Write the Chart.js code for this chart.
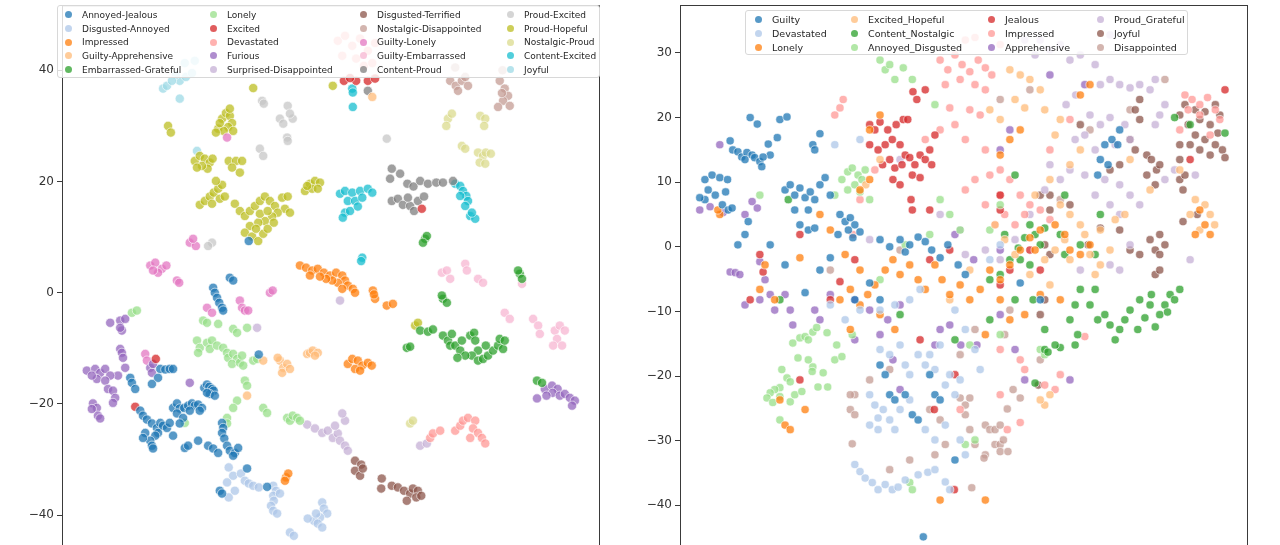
<!DOCTYPE html>
<html>
<head>
<meta charset="utf-8">
<script src="https://cdn.jsdelivr.net/npm/chart.js@4.4.0/dist/chart.umd.min.js"></script>
<style>
html, body { margin: 0; padding: 0; background: #fff; overflow: hidden; width: 1280px; height: 545px; }
.panel { position: absolute; top: 0; }
.legend { position: absolute; background: rgba(255,255,255,0.82); border: 1px solid #d8d8d8; border-radius: 3px;
  display: grid; grid-auto-flow: column; font-family: "DejaVu Sans", sans-serif; color: #262626; box-sizing: border-box; }
.legend div { display: flex; align-items: center; white-space: nowrap; }
.legend i { display: inline-block; width: 7px; height: 7px; border-radius: 50%; margin-right: 10px; flex: none; }
</style>
</head>
<body>
<div class="panel" style="left:0;width:612px;height:568px"><canvas id="leftChart" width="612" height="568"></canvas></div>
<div class="panel" style="left:612px;width:648px;height:568px"><canvas id="rightChart" width="648" height="568"></canvas></div>
<div id="leftLegend" class="legend" style="left:57px;top:5px;width:543px;height:73px;padding:2px 0 0 7px;font-size:9px;grid-template-columns:145px 150px 147px 95px;grid-template-rows:repeat(5,13.7px)"></div>
<div id="rightLegend" class="legend" style="left:745px;top:10px;width:443px;height:45px;padding:1px 0 0 9px;font-size:9.5px;grid-template-columns:96px 137px 109px 95px;grid-template-rows:repeat(3,14px)"></div>
<script>
// ---- left panel (pairs) ----
const leftNames = ['Annoyed-Jealous', 'Disgusted-Annoyed', 'Impressed', 'Guilty-Apprehensive', 'Embarrassed-Grateful',
  'Lonely', 'Excited', 'Devastated', 'Furious', 'Surprised-Disappointed',
  'Disgusted-Terrified', 'Nostalgic-Disappointed', 'Guilty-Lonely', 'Guilty-Embarrassed', 'Content-Proud',
  'Proud-Excited', 'Proud-Hopeful', 'Nostalgic-Proud', 'Content-Excited', 'Joyful'];
const leftYTicks = [40, 20, 0, -20, -40];

const leftAnnoyedJealous = [[-14.6,9.3],[-18.0,2.7],[-17.4,2.2],[-21.0,0.9],[-20.7,0],[-20.3,-0.9],[-19.9,-1.8],[-19.4,-2.7],[-19.2,-3.2],[-12.8,-11.1],
  [-35.9,-15.3],[-35.6,-16.2],[-35.0,-17.3],[-30.5,-13.7],[-29.6,-13.8],[-28.8,-13.7],[-28.2,-13.7],[-30.9,-15.3],[-32.0,-16.4],
  [-22.6,-17.1],[-22.1,-16.5],[-21.7,-16.9],[-21.2,-17.3],[-20.9,-17.6],[-21.6,-18.2],[-22.1,-18.0],[-20.7,-18.5],
  [-34.1,-21.2],[-33.6,-22.1],[-32.9,-22.8],[-32.0,-23.5],[-31.1,-24.3],[-30.5,-23.4],[-30.0,-23.9],[-30.9,-25.2],[-31.4,-25.7],[-32.3,-26.6],[-33.2,-25.2],[-33.6,-26.1],[-32.0,-27.5],[-31.8,-28.0],[-29.3,-24.3],[-28.8,-23.4],[-28.2,-25.7],
  [-28.2,-20.7],[-27.5,-19.9],[-27.0,-20.8],[-26.2,-20.7],[-25.5,-20.3],[-24.8,-19.9],[-24.3,-20.3],[-23.7,-20.1],[-23.0,-20.7],[-23.4,-21.2],[-25.2,-21.2],[-27.5,-21.7],[-26.4,-22.5],[-27.0,-23.5],
  [-19.4,-23.4],[-19.2,-24.3],[-19.4,-25.2],[-19.0,-26.2],[-18.5,-27.5],[-18.0,-28.4],[-17.1,-28.8],[-16.5,-27.9],[-17.4,-29.3],
  [-26.1,-27.9],[-25.5,-27.5],[-23.7,-26.6],[-21.9,-27.5],[-21.0,-28.0],[-20.1,-28.8],[-19.8,-35.6],[-19.4,-36.1],[-14.9,-31.6],[-11.3,-34.9]];
const leftDisgustedAnnoyed = [[-18.2,-31.4],[-17.4,-32.9],[-18.5,-34.1],[-17.1,-35.6],[-18.2,-36.8],[-16.0,-32.5],[-15.3,-33.8],[-14.6,-34.3],[-13.8,-34.7],[-12.8,-35.0],
  [-10.2,-34.7],[-9.7,-35.6],[-10.2,-36.5],[-10.1,-37.4],[-10.6,-38.3],[-10.2,-39.2],[-9.5,-39.7],[-9.0,-36.1],[-7.2,-43.1],[-6.5,-43.7],
  [-1.4,-37.7],[-1.1,-38.8],[-0.5,-39.7],[-1.8,-40.4],[-2.9,-41.0],[-4.0,-40.6],[-2.2,-41.5],[-1.4,-42.2],[-2.5,-39.7]];
const leftImpressed = [[-5.4,4.9],[-4.3,4.5],[-3.2,4.0],[-2.2,4.3],[-1.1,3.6],[0,3.1],[1.1,3.6],[2.2,3.1],[2.7,2.2],[1.4,1.8],[0.4,2.2],[-0.7,2.5],[-1.8,2.9],[-3.6,3.1],[3.2,1.3],[2.2,0.7],
  [4.1,0.7],[4.5,0],[7.7,0.4],[8.1,-1.1],[7.9,-0.3],[10.2,-2.3],[11.3,-2.0],
  [3.2,-12.8],[4.0,-11.9],[5.0,-12.2],[5.8,-13.1],[6.8,-12.6],[4.5,-13.7],[5.4,-14.0],[7.5,-13.1],[-7.9,-33.2],[-7.5,-32.5],[-8.1,-33.8]];
const leftGuiltyApprehensive = [[-9.0,-12.2],[-8.4,-13.5],[-8.6,-14.4],[-7.7,-12.8],[-9.4,-11.7],[-7.2,-13.7],[-4.1,-11.0],[-3.6,-10.8],[-3.1,-10.4],[-2.2,-10.8],[-2.7,-11.3],[-12.0,-12.2],[-14.9,-18.5],[7.6,35.2]];
const leftEmbarrassedGrateful = [[17.1,9.7],[17.4,10.2],[16.7,9.0],[34.1,3.4],[33.8,4.0],[34.5,2.5],[20.3,-1.1],[21.0,-1.8],[20.1,-0.5],[13.8,-9.9],[14.4,-9.7],[16.2,-6.8],[17.6,-7.0],[18.5,-6.6],
  [20.3,-7.7],[21.2,-8.6],[21.9,-7.4],[21.6,-9.5],[22.5,-9.5],[23.4,-10.4],[23.7,-8.6],[25.2,-7.7],[25.9,-7.2],[26.1,-8.6],[26.6,-10.4],[25.5,-11.3],[26.6,-12.2],[27.5,-11.9],[28.4,-11.3],[29.3,-10.4],
  [30.2,-9.5],[31.1,-10.1],[30.5,-8.3],[31.4,-8.6],[28.0,-9.5],[24.3,-11.3],[22.9,-11.7],[37.2,-15.8],[38.1,-16.2]];
const leftLonely = [[-35.6,-3.6],[-34.7,-3.2],[-22.8,-5.0],[-22.1,-5.4],[-20.1,-5.6],[-17.4,-6.5],[-16.7,-7.2],[-14.9,-6.3],[-23.9,-8.6],[-23.4,-9.9],[-23.7,-10.8],[-22.1,-9.0],[-21.2,-8.6],[-21.6,-10.1],
  [-20.3,-9.5],[-19.2,-9.9],[-18.5,-10.8],[-18.3,-11.7],[-17.4,-11.0],[-16.7,-11.9],[-17.6,-12.8],[-16.2,-12.6],[-15.6,-13.1],[-15.8,-11.3],[-13.8,-12.2],[-13.1,-11.9],[-15.3,-15.8],[-14.9,-16.7],
  [-16.7,-19.4],[-17.4,-20.7],[-18.5,-22.5],[-18.5,-23.5],[-12.0,-20.7],[-11.3,-21.6],[-7.7,-22.5],[-7.2,-23.0],[-6.7,-22.1],[-5.9,-22.5],[-5.4,-23.0],[-26.1,-23.4]];
const leftExcited = [[2.5,38.1],[4.7,38.1],[6.8,38.1],[8.1,38.5],[3.6,38.6],[16.5,15.1],[-35.0,-20.5],[-31.3,-11.9]];
const leftDevastated = [[1.4,45.3],[2.7,46.2],[4.0,44.4],[5.4,45.7],[6.8,43.5],[8.1,44.9],[4.7,42.1],[2.2,42.6],[6.1,40.8],[7.6,41.3],
  [18.0,-26.1],[18.5,-25.3],[19.8,-24.8],[22.5,-24.8],[23.4,-23.9],[23.9,-23.0],[24.8,-22.5],[26.1,-23.0],[25.7,-24.4],[26.6,-25.2],[27.3,-26.1],[27.9,-27.1],[25.2,-26.1]];
const leftFurious = [[37.2,-19.0],[38.6,-17.3],[39.9,-16.7],[40.9,-17.3],[40.0,-18.0],[41.3,-18.5],[42.2,-18.2],[43.1,-18.9],[44.0,-19.4],[43.5,-20.3],[38.9,-18.5],
  [-39.5,-5.4],[-37.7,-5.0],[-36.8,-4.7],[-37.4,-6.8],[-37.7,-6.3],[-37.7,-10.1],[-37.4,-10.8],[-37.2,-11.7],[-36.8,-13.5],[-38.1,-14.9],
  [-43.7,-14.0],[-42.2,-13.7],[-41.3,-14.4],[-40.4,-13.7],[-39.5,-14.9],[-41.9,-15.5],[-40.4,-15.8],[-42.8,-14.9],[-39.9,-17.3],[-39.0,-17.6],[-38.6,-18.9],[-39.0,-19.8],
  [-42.6,-19.9],[-41.9,-20.7],[-42.8,-20.9],[-41.7,-22.1],[-41.3,-22.6],[-32.3,-13.5],[-32.0,-14.4],[-31.8,-12.8],[-25.2,-16.2]];
const leftSurprisedDisappointed = [[-13.1,-6.3],[1.8,-1.4],[-4.1,-23.7],[-2.7,-24.4],[-1.4,-25.2],[-0.4,-24.8],[0.5,-26.1],[1.4,-25.3],[1.8,-26.6],[2.7,-27.5],[3.2,-28.4],[0.9,-23.9],[2.7,-23.0],[2.2,-21.7],[16.2,-27.5],[17.4,-27.1]];
const leftDisgustedTerrified = [[4.5,-30.2],[5.6,-30.9],[4.5,-32.0],[5.4,-32.9],[5.9,-31.6],[9.3,-33.4],[9.2,-35.2],[11.1,-34.7],[12.2,-35.0],[13.3,-35.6],[14.4,-36.1],[14.9,-35.2],[15.8,-35.6],[15.5,-36.8],[13.8,-37.4],[16.4,-36.5]];
const leftNostalgicDisappointed = [[21.6,38.1],[22.6,37.2],[23.7,38.1],[24.8,37.2],[23.0,36.3],[24.3,38.8],[30.5,38.1],[31.4,36.7],[32.0,35.4],[31.1,34.5],[30.2,33.4],[32.3,33.6],[30.9,35.9],[22.5,40.5],[31.0,40.0]];
const leftGuiltyLonely = [[-18.5,27.9],[-25.2,9.0],[-24.1,8.4],[-24.6,9.7],[-32.3,4.9],[-31.4,5.4],[-30.2,4.3],[-30.9,3.6],[-29.4,4.9],[-31.8,4.0],[-27.5,2.2],[-27.1,1.8],
  [-22.1,-2.7],[-21.2,-3.6],[-16.2,-1.4],[-15.8,-2.7],[-15.3,-3.2],[-14.7,-3.2],[-10.8,0.0],[-10.3,0.4],[-33.2,-11.0],[-32.9,-12.2]];
const leftGuiltyEmbarrassed = [[20.1,3.6],[21.0,4.0],[21.6,2.5],[24.3,5.2],[24.6,4.0],[26.6,2.5],[27.5,1.8],[34.5,1.6],[31.4,-3.6],[32.3,-4.7],[36.5,-4.7],[37.4,-5.9],[37.7,-7.4],[40.4,-6.8],[41.3,-5.9],[42.2,-6.8],[40.8,-8.3],[40.1,-9.5],[41.7,-9.5]];
const leftContentProud = [[6.8,36.3],[11.1,22.3],[10.8,20.5],[12.6,21.4],[13.9,19.6],[15.0,19.1],[16.2,20.1],[17.6,19.6],[19.1,19.8],[20.3,19.8],[11.1,16.5],[12.2,16.9],[13.1,15.8],[14.4,15.6],[15.8,16.5],[16.9,17.3],[15.1,14.7],[14.0,17.1],[22.1,20.1]];
const leftProudExcited = [[-12.2,34.5],[-11.9,34.0],[-9.0,31.3],[-8.4,30.4],[-7.6,33.6],[-6.7,31.3],[-7.2,32.2],[-7.7,27.9],[-7.6,27.3],[-12.6,25.9],[-12.0,24.6],[-21.2,9.0],[-21.9,8.4],[10.2,27.7]];
const leftProudHopeful = [[-13.8,36.8],[-29.1,30.0],[-28.6,28.8],
  [-20.1,29.5],[-19.4,31.3],[-18.7,32.3],[-18.0,31.8],[-17.6,30.5],[-18.3,29.8],[-19.1,29.1],[-19.8,30.5],[-20.5,28.8],[-18.0,33.1],[-17.4,29.1],
  [-24.3,23.7],[-23.4,24.6],[-22.5,24.1],[-21.6,23.4],[-22.0,22.3],[-23.0,22.8],[-23.9,22.5],[-21.1,24.1],
  [-18.2,23.7],[-16.9,23.7],[-15.8,23.7],[-17.6,22.5],[-16.2,21.6],
  [-23.4,15.8],[-22.5,16.5],[-21.6,17.3],[-20.9,18.0],[-20.1,18.7],[-19.4,19.4],[-20.5,20.1],[-19.8,16.9],[-18.9,17.3],[-21.2,16.0],
  [-17.1,16.0],[-16.2,14.7],[-15.3,13.8],[-14.4,14.7],[-13.5,15.6],[-12.6,16.5],[-11.7,17.3],[-10.8,16.5],[-9.9,15.6],[-8.6,17.1],[-8.1,15.1],[-9.4,14.4],[-10.4,13.7],
  [-11.7,12.9],[-12.9,12.6],[-14.4,12.0],[-15.3,10.8],[-14.0,10.1],[-12.9,9.3],[-12.0,10.6],[-11.2,11.5],[-10.1,12.6],[-7.2,14.4],[-7.6,17.3],[-12.6,14.2],[-11.2,14.7],[-13.3,11.5],
  [-4.5,18.3],[-3.6,19.6],[-2.7,20.1],[-1.8,19.8],[-3.2,18.7],[-2.2,18.7],[-4.1,19.2],[0.5,37.2],[15.3,-5.9],[15.8,-5.4]];
const leftNostalgicProud = [[21.2,31.3],[21.9,32.2],[20.9,30.0],[27.0,31.8],[27.9,31.3],[27.7,30.0],[23.7,26.4],[24.3,25.9],[26.6,25.2],[27.5,24.6],[28.0,25.2],[26.9,23.4],[27.9,23.2],[28.9,25.0],[14.4,-23.5],[14.9,-23.0]];
const leftContentExcited = [[4.0,36.7],[4.1,36.0],[4.1,33.4],[1.8,17.8],[2.7,18.3],[4.0,18.0],[5.4,18.3],[6.8,18.7],[7.6,18.0],[3.2,16.5],[4.5,16.5],[5.8,17.1],[2.7,14.4],[3.6,14.7],[2.3,13.5],[5.0,15.5],
  [22.5,19.6],[23.4,19.2],[23.9,18.3],[24.5,17.4],[23.4,17.4],[24.8,16.5],[24.3,15.6],[25.2,13.8],[26.1,13.3],[25.5,14.4],[5.8,6.3],[5.6,5.7]];
const leftJoyful = [[-30.0,36.7],[-29.3,37.2],[-27.0,38.1],[-27.0,34.9],[-25.9,38.8],[-24.8,39.5],[-27.7,39.2],[-23.9,25.5],[-28.4,38.1],[-26.1,41.3],[-24.3,41.7]];

// ---- right panel (singles) ----
const rightNames = ['Guilty', 'Devastated', 'Lonely', 'Excited_Hopeful', 'Content_Nostalgic', 'Annoyed_Disgusted',
  'Jealous', 'Impressed', 'Apprehensive', 'Proud_Grateful', 'Joyful', 'Disappointed'];
const rightYTicks = [30, 20, 10, 0, -10, -20, -30, -40];

const rightGuilty = [[-33.1,20.0],[-32.0,19.0],[-28.5,19.7],[-27.4,20.1],[-36.2,16.4],[-35.8,15.0],[-35.0,14.7],[-34.4,13.9],[-33.6,14.6],[-32.8,14.2],[-32.4,13.8],[-31.6,13.2],[-31.3,12.4],
  [-30.3,15.9],[-28.9,16.9],[-30.0,14.2],[-31.1,13.9],[-33.9,13.5],[-22.3,17.5],[-23.4,15.8],[-23.1,15.0],
  [-40.1,10.4],[-39.0,11.1],[-37.8,10.7],[-36.6,10.4],[-39.6,8.8],[-38.5,8.0],[-36.9,8.5],[-40.1,7.3],[-40.9,7.6],[-37.4,6.5],[-36.5,5.7],[-35.9,6.0],
  [-27.7,8.8],[-26.9,9.6],[-26.2,8.0],[-25.4,9.1],[-24.6,7.6],[-23.8,8.5],[-23.1,7.3],[-24.1,5.7],[-26.2,5.7],[-22.3,9.6],[-21.5,10.7],[-20.7,8.0],[-25.4,3.4],[-24.1,2.6],[-23.1,2.9],
  [-19.2,5.0],[-18.4,3.9],[-17.6,4.5],[-16.9,3.4],[-17.9,2.6],[-19.5,1.9],[-17.2,1.4],[-16.1,2.3],[-33.9,1.9],[-33.4,3.9],[-35.0,0.3],
  [-13.0,1.1],[-11.5,0],[-9.9,1.1],[-9.1,-0.8],[-8.4,0.3],[-7.1,1.5],[-6.0,0.8],[-5.0,-0.5],[-3.7,-1.7],[-2.5,0.3],[-0.9,-2.8],[0.2,-4.3],[-14.6,-5.6],[-16.9,-8.2],[-13.0,-8.2],
  [-20.7,-1.7],[-22.3,-3.6],[-24.6,-7.1],[-27.7,-2.8],[-30.0,0.3],[8.7,-5.6],[11.8,-8.2],
  [21.8,15.8],[22.9,16.6],[23.8,15.8],[21.1,13.5],[22.3,12.7],[20.7,11.1],[24.1,18.1],
  [-13.0,-18.3],[-12.2,-19.8],[-11.5,-22.9],[-10.7,-23.7],[-9.1,-22.9],[-8.0,-26.0],[-7.1,-26.8],[-5.3,-19.8],[-4.5,-22.9],[-3.7,-23.7],[-6.3,-44.9],[-1.4,-33.0]];
const rightDevastated = [[-13.0,-15.9],[-11.5,-16.7],[-9.9,-15.2],[-9.1,-18.3],[-8.4,-19.8],[-7.1,-16.7],[-6.0,-18.3],[-5.3,-16.7],[-4.5,-19.0],[-3.7,-15.2],[-2.9,-21.4],[-2.2,-19.8],[-1.4,-22.9],[-0.6,-20.6],
  [-14.6,-22.9],[-13.8,-24.5],[-13.3,-26.5],[-12.5,-25.2],[-11.5,-26.8],[-10.7,-28.3],[-13.3,-28.3],[-14.6,-27.6],[-9.9,-25.2],[-8.4,-23.7],[-6.0,-28.3],[-4.5,-29.9],[-2.9,-27.6],[-0.6,-29.9],[0.2,-32.2],
  [-16.9,-33.7],[-16.1,-34.8],[-15.3,-35.8],[-14.2,-36.5],[-13.3,-37.6],[-12.2,-36.8],[-11.1,-37.6],[-10.2,-37.2],[-9.1,-36.1],[-7.1,-35.3],[-5.6,-34.9],[-4.5,-34.5],[-2.9,-36.4],[-2.2,-37.6],
  [-13.0,-9.8],[-10.7,-9.0],[-8.4,-8.2],[-6.8,-6.6],[-16.1,-9.8],[4.0,-2.0],[5.6,0.3],[-18.4,-11.3],[-20.7,-9.0],[-1.4,-9.8],[0.2,-12.8],[1.7,-15.9],[2.5,-19.0],[-16.1,16.6],[-20.0,15.8]];
const rightLonely = [[-19.2,-8.2],[-17.6,-6.6],[-16.1,-9.0],[-14.9,-7.4],[-13.8,-5.9],[-12.2,-3.6],[-11.0,-2.0],[-9.9,-4.3],[-8.4,-2.8],[-7.1,-5.1],[-6.0,-6.6],[-4.5,-2.8],[-3.4,-5.1],[-2.2,-7.4],
  [-0.6,-5.9],[0.9,-8.2],[2.5,-6.6],[4.0,-3.6],[5.6,-5.1],[7.1,-2.8],[8.7,-0.5],[10.2,1.4],[11.8,2.6],[14.1,3.4],[15.6,1.9],[16.4,-0.5],[18.0,-1.2],[19.5,0.3],[5.6,-8.2],[7.1,-11.3],
  [3.3,-13.6],[9.4,-10.5],[11.8,-7.4],[14.9,-8.2],[11.0,-0.5],[-16.1,-3.6],[-18.4,-1.2],[-20.7,2.6],[-22.3,5.0],[-16.1,8.8],[-14.6,10.4],[-31.6,-6.6],[-30.8,-2.8],[-37.8,5.0],[-38.1,5.7],
  [-29.3,-8.2],[-25.4,-1.7],[-13.0,20.4],[-14.6,18.1],[5.6,14.2],[7.1,16.6],[8.7,18.1],[18.0,23.5],[19.5,25.1],[36.5,5.7],[37.3,3.4],[38.1,1.9],[35.8,1.9],
  [-28.5,-23.7],[-27.7,-27.6],[-26.9,-28.3],[-24.6,-25.2],[-13.0,-10.5],[-10.7,-12.8],[-17.6,-12.8],[3.3,-39.2],[-3.7,-39.2]];
const rightExcitedHopeful = [[7.1,27.4],[8.7,26.6],[10.2,25.9],[7.9,22.8],[9.4,21.5],[11.8,24.3],[12.5,21.2],[14.9,19.7],[14.1,17.3],[5.6,19.7],[4.0,21.2],[18.0,15.0],[16.4,12.7],[13.3,10.4],[11.0,8.0],
  [14.9,6.5],[16.4,5.0],[18.0,3.4],[18.7,1.9],[15.6,1.1],[14.1,-0.5],[12.5,-2.0],[16.4,-2.0],[19.5,-1.2],[21.1,-2.8],[22.6,-0.5],[20.3,-4.3],[13.3,-5.9],[10.2,-4.3],[7.9,-1.2],
  [6.3,1.1],[4.8,3.4],[21.1,2.6],[23.4,4.2],[24.9,5.0],[35.0,5.0],[35.8,7.3],[37.3,6.5],[38.1,5.0],[38.8,3.4],[36.5,2.6],[33.4,11.9],[28.8,8.8],[25.7,13.5],[-13.0,13.5],[-15.2,9.6],
  [13.3,-22.9],[12.5,-24.5],[11.8,-23.7],[0.9,-3.6],[-2.2,-8.2]];
const rightContentNostalgic = [[18.0,-6.6],[17.2,-9.0],[16.4,-11.3],[17.6,-13.6],[17.2,-15.2],[14.9,-15.6],[14.1,-15.2],[12.5,-15.9],[21.8,-10.5],[22.6,-12.1],[23.4,-14.4],[24.1,-12.8],[24.9,-11.3],
  [25.7,-9.8],[26.9,-12.8],[28.0,-11.0],[28.8,-9.0],[29.6,-12.4],[30.3,-10.5],[31.1,-9.0],[31.9,-7.4],[32.6,-8.2],[33.4,-6.6],[31.5,-10.1],[27.2,-8.2],[29.0,-7.4],[20.7,-11.3],[19.5,-9.0],[20.3,-6.6],
  [8.7,-2.0],[10.2,-2.8],[11.8,0.3],[11.0,1.9],[9.4,1.4],[10.2,3.4],[8.4,-0.2],[12.5,2.9],[14.9,1.9],[15.6,-1.2],[18.0,0.3],[20.3,-1.2],[21.1,5.0],[15.6,8.0],[6.3,1.9],[7.1,-2.0],
  [5.6,-4.3],[4.0,-5.1],[7.9,11.1],[35.0,18.9],[32.6,20.0],[40.4,17.6],[10.7,-8.2],[7.9,-8.2],[4.0,-11.3],[12.5,-12.8],[13.0,-16.3],[-1.4,-14.4],[-28.5,-8.2],[-27.2,7.3],[-9.9,-10.5],[11.0,-21.1]];
const rightAnnoyedDisgusted = [[-26.5,-14.9],[-25.4,-14.1],[-24.6,-13.9],[-24.1,-14.4],[-23.4,-13.2],[-22.8,-12.5],[-21.2,-13.3],[-25.7,-17.2],[-24.1,-17.5],[-23.4,-18.6],[-23.5,-19.3],[-21.8,-19.5],
  [-21.1,-21.7],[-22.6,-21.7],[-28.2,-19.0],[-27.4,-20.3],[-26.9,-20.9],[-28.5,-21.8],[-29.3,-22.1],[-30.0,-22.6],[-30.5,-23.4],[-29.6,-24.1],[-28.5,-23.2],[-26.9,-24.0],[-26.2,-22.9],[-25.1,-22.4],
  [-20.0,-17.5],[-18.9,-17.0],[-17.3,-13.6],[-19.7,-15.2],[-28.5,-26.8],[-8.4,-36.5],[-8.0,-37.6],
  [-18.0,11.6],[-17.3,12.2],[-16.4,11.1],[-15.8,10.4],[-16.9,9.6],[-18.0,8.8],[-16.1,8.5],[-15.3,11.9],[-18.9,10.4],[-20.0,8.0],
  [-13.0,28.9],[-12.2,27.4],[-11.5,28.2],[-10.7,25.9],[-9.4,27.7],[-8.0,25.9],[-4.5,22.0],
  [-14.6,7.3],[-3.7,7.3],[-2.2,5.0],[-0.6,2.6],[-5.3,1.9],[-9.1,0.3],[4.0,2.6],[-13.0,-5.1],[5.6,6.5],[11.8,-15.9],[12.5,-16.7],[5.6,-13.6],[0.9,-15.2],[1.7,-29.9],[0.2,-30.6],[-31.6,8.0]];
const rightJealous = [[-14.6,18.9],[-13.8,18.1],[-13.0,19.3],[-11.8,18.1],[-10.5,18.9],[-9.4,19.7],[-14.6,15.8],[-13.3,15.0],[-12.2,15.8],[-11.1,16.6],[-9.9,15.8],[-9.1,14.2],[-11.5,13.5],[-12.6,12.7],
  [-10.7,12.2],[-9.6,12.7],[-8.4,13.8],[-7.6,12.7],[-6.8,14.2],[-6.0,13.5],[-5.3,15.0],[-8.0,11.1],[-11.0,10.4],[-9.9,9.6],[-6.8,10.7],[-5.0,12.7],[-7.9,24.0],[-7.3,22.8],[-6.0,24.3],[-8.7,19.7],[-4.5,17.3],
  [-8.2,7.3],[-8.0,5.7],[-5.3,5.7],[-2.2,-0.5],[-5.3,-2.0],[-16.9,-2.0],[-19.2,-5.4],[-31.6,-1.2],[-31.1,-3.9],[-25.4,1.9],[-20.7,-8.2],[-33.1,-8.2],[-25.4,-20.6],[-6.8,-14.4],[-1.4,-19.8],
  [-4.6,-25.2],[-1.5,-37.6],[5.6,-5.9],[7.1,-3.6],[10.2,-0.5],[11.8,-3.6],[5.6,8.0],[5.6,5.7],[40.4,24.3],[35.0,13.5]];
const rightImpressed = [[-3.7,28.9],[-2.5,27.4],[-1.4,29.7],[-0.3,28.2],[0.9,27.1],[2.2,28.9],[3.3,27.7],[4.3,26.6],[-0.6,25.9],[1.7,25.1],[-2.9,25.1],[0.2,32.0],[1.7,32.4],[5.6,31.3],[3.3,24.3],
  [-2.2,21.5],[-3.7,18.1],[-1.4,18.9],[0.9,21.2],[2.5,20.4],[0.2,16.6],[3.3,15.0],[5.6,11.9],[4.0,11.1],[1.7,10.4],[0.2,8.8],[3.3,6.5],[5.6,8.0],[7.1,10.4],[8.7,8.0],[10.2,6.5],[9.4,5.0],
  [6.3,5.0],[4.8,3.4],[7.9,3.4],[11.8,5.7],[13.3,4.2],[34.2,23.5],[35.3,22.8],[36.5,22.0],[37.7,23.1],[34.7,21.2],[36.5,20.4],[38.9,21.2],[39.6,19.7],[33.4,18.1],[38.1,17.3],[16.4,19.7],[13.3,15.0],
  [-13.8,11.9],[-17.2,1.9],[-16.1,7.3],[-20.0,20.4],[-19.2,21.5],[-18.7,22.8],[-6.0,16.6],[5.6,-15.9],[8.7,-17.5],[9.4,-19.0],[12.5,-21.4],[14.1,-22.1],[14.9,-19.8],[5.6,-22.9],[-0.6,-25.2],
  [18.7,-13.9],[8.7,-27.2],[6.7,-28.3]];
const rightApprehensive = [[-32.8,7.0],[-32.0,6.0],[-33.9,5.0],[-36.2,-3.9],[-35.4,-4.0],[-34.7,-4.3],[-31.6,-2.3],[-30.8,-5.1],[-30.0,-7.4],[-29.3,-9.8],[-31.6,-8.2],[-33.9,-9.0],[-27.7,-7.4],[-26.9,-9.8],
  [-26.5,-12.1],[-23.1,-9.8],[-22.3,-11.3],[-20.7,-7.4],[-16.9,-8.2],[-14.6,-9.8],[-13.0,-13.6],[-11.8,-11.3],[-9.9,-9.0],[-16.9,-14.4],[-11.0,-17.5],[-9.9,-22.1],[-3.7,-12.8],[-2.2,-12.1],[-4.5,-15.2],
  [5.6,-10.5],[7.9,-15.9],[9.4,-20.6],[16.4,-20.6],[2.0,-15.2],[-0.5,-15.2],[5.6,-0.5],[-37.8,15.8],[-40.9,5.7],[-39.3,6.2],[-37.3,5.3],[7.1,18.1],[5.6,15.0],[18.7,25.1],[13.3,26.6],[1.5,-2.0],[-1.4,1.9]];
const rightProudGrateful = [[11.8,32.0],[13.3,30.5],[14.9,31.3],[16.4,28.9],[18.0,29.7],[20.3,28.2],[21.1,25.1],[22.6,25.9],[24.1,25.1],[25.7,24.6],[27.2,25.1],[28.8,24.3],[29.6,25.9],[17.3,23.5],[15.8,22.0],
  [19.5,20.4],[21.1,18.9],[18.7,17.3],[17.2,16.6],[22.6,20.0],[24.9,18.9],[25.7,16.6],[23.4,15.8],[20.3,15.0],[16.4,11.9],[14.9,10.4],[18.7,11.1],[21.8,10.4],[24.1,9.6],[25.7,8.0],[27.2,6.5],
  [22.6,6.5],[20.3,8.0],[24.1,5.0],[13.3,12.7],[12.5,8.8],[10.2,5.0],[7.9,1.1],[5.6,-2.0],[3.3,-0.5],[0.2,-1.2],[-0.6,2.6],[30.3,20.4],[29.6,18.9],[31.1,10.4],[32.6,11.9],[35.8,11.1],[31.1,22.0],
  [-9.9,13.5],[-3.7,5.0],[-14.6,1.1],[35.0,-2.0],[24.1,-3.6],[22.6,-2.8],[25.7,0.3],[18.0,-3.6],[11.0,29.7],[9.4,32.0],[22.6,32.8]];
const rightJoyful = [[33.4,20.4],[34.2,22.0],[35.8,21.2],[36.5,19.7],[37.3,20.9],[38.1,18.9],[38.9,22.0],[39.6,20.4],[34.7,18.9],[35.8,17.3],[37.3,16.6],[38.9,15.8],[40.0,15.0],[36.5,15.0],[38.1,14.2],
  [35.0,15.8],[39.3,17.6],[40.4,13.8],[33.4,15.8],[33.4,13.5],[27.2,22.8],[26.5,21.2],[27.2,19.7],[25.7,16.6],[26.5,15.0],[28.3,14.2],[29.0,13.5],[29.8,11.9],[28.3,11.1],[30.3,12.7],[29.6,9.6],
  [33.4,10.4],[33.9,8.8],[24.1,12.7],[18.0,18.9],[22.6,11.9],[16.4,6.5],[13.3,5.7],[12.5,0.3],[13.3,-1.2],[24.1,2.6],[25.7,-0.5],[27.2,-1.2],[29.6,-0.5],[30.3,-1.2],[28.8,1.1],[30.3,1.9],
  [31.1,0.3],[29.6,-4.3],[30.3,-3.6],[12.5,-8.2],[11.8,-10.5],[11.5,-21.4],[36.1,5.0],[33.9,3.9],[34.2,11.1],[21.1,2.9],[19.2,0.3],[13.3,8.0],[11.8,8.0]];
const rightDisappointed = [[-0.6,-23.4],[0.2,-24.5],[0.9,-23.4],[3.3,-27.6],[4.0,-28.3],[4.8,-28.3],[5.6,-27.6],[0.9,-28.3],[1.7,-30.6],[4.8,-30.6],[5.6,-30.6],[5.6,-31.7],[6.1,-29.9],[6.8,-31.7],
  [3.3,-32.2],[3.1,-32.7],[1.2,-37.3],[0.2,-26.0],[6.7,-25.1],[8.7,-23.4],[11.8,-17.5],[6.3,-13.6],[-5.3,-25.2],[-3.7,-26.8],[-4.5,-32.2],[-2.9,-30.6],[-8.4,-33.0],[-11.5,-34.5],[-17.3,-30.5],
  [-14.6,-20.6],[-11.5,-19.0],[-0.6,-16.7],[1.7,-12.8],[7.1,-9.8],[-16.9,-22.9],[-9.9,-0.5],[-20.7,-3.6],[10.2,24.3],[25.7,21.2],[31.1,25.9],[19.5,18.1],[14.9,7.3],[5.6,22.8],
  [-17.6,-22.9],[-17.6,-25.2],[-16.9,-26.0],[7.6,-22.1]];

// tab20 colours
const tab20 = ['#1f77b4', '#aec7e8', '#ff7f0e', '#ffbb78', '#2ca02c', '#98df8a', '#d62728', '#ff9896', '#9467bd', '#c5b0d5',
  '#8c564b', '#c49c94', '#e377c2', '#f7b6d2', '#7f7f7f', '#c7c7c7', '#bcbd22', '#dbdb8d', '#17becf', '#9edae5'];

const leftSeries = [leftAnnoyedJealous, leftDisgustedAnnoyed, leftImpressed, leftGuiltyApprehensive, leftEmbarrassedGrateful,
  leftLonely, leftExcited, leftDevastated, leftFurious, leftSurprisedDisappointed,
  leftDisgustedTerrified, leftNostalgicDisappointed, leftGuiltyLonely, leftGuiltyEmbarrassed, leftContentProud,
  leftProudExcited, leftProudHopeful, leftNostalgicProud, leftContentExcited, leftJoyful];
const rightSeries = [rightGuilty, rightDevastated, rightLonely, rightExcitedHopeful, rightContentNostalgic, rightAnnoyedDisgusted,
  rightJealous, rightImpressed, rightApprehensive, rightProudGrateful, rightJoyful, rightDisappointed];

function alpha(hex, a) {
  const n = parseInt(hex.slice(1), 16);
  return 'rgba(' + (n >> 16) + ',' + ((n >> 8) & 255) + ',' + (n & 255) + ',' + a + ')';
}

const frame = {
  id: 'frame',
  afterDraw(chart) {
    const a = chart.chartArea, c = chart.ctx;
    c.save();
    c.strokeStyle = '#3a3a3a';
    c.lineWidth = 1;
    c.strokeRect(a.left + 0.5, a.top + 0.5, a.right - a.left - 1, a.bottom - a.top + 10);
    c.restore();
  }
};

function makePanel(id, names, series, yTicks, xr, yr, axisW, padRight, radius) {
  const datasets = series.map((pts, i) => ({
    label: names[i],
    data: pts.map(p => ({ x: p[0], y: p[1] })),
    backgroundColor: alpha(tab20[i], 0.75),
    borderColor: 'rgba(255,255,255,0.85)',
    borderWidth: 0.7,
    pointRadius: radius
  }));
  return new Chart(document.getElementById(id), {
    type: 'scatter',
    data: { datasets },
    options: {
      responsive: false,
      animation: false,
      layout: { padding: { top: 5, right: padRight, left: 0, bottom: 8 } },
      plugins: { legend: { display: false }, tooltip: { enabled: false } },
      scales: {
        x: { display: false, min: xr[0], max: xr[1] },
        y: {
          min: yr[0], max: yr[1],
          afterFit: s => { s.width = axisW; s.paddingTop = 0; s.paddingBottom = 0; },
          afterBuildTicks: s => { s.ticks = yTicks.map(v => ({ value: v })); },
          grid: { drawOnChartArea: false, drawTicks: true, tickLength: 5, color: '#3a3a3a' },
          border: { display: true, color: '#3a3a3a' },
          ticks: {
            color: '#333', padding: 3,
            font: { family: 'DejaVu Sans', size: 12 },
            callback: v => String(v).replace('-', '\u2212')
          }
        }
      }
    },
    plugins: [frame]
  });
}

makePanel('leftChart', leftNames, leftSeries, leftYTicks, [-48.16, 48.52], [-48.05, 51.68], 62, 12, 4.6);
makePanel('rightChart', rightNames, rightSeries, rightYTicks, [-43.96, 43.96], [-48.48, 37.43], 68, 12, 4.1);

function buildLegend(id, names) {
  const box = document.getElementById(id);
  names.forEach((n, i) => {
    const d = document.createElement('div');
    const m = document.createElement('i');
    m.style.background = alpha(tab20[i], 0.75);
    d.appendChild(m);
    d.appendChild(document.createTextNode(n));
    box.appendChild(d);
  });
}
buildLegend('leftLegend', leftNames);
buildLegend('rightLegend', rightNames);
</script>
</body>
</html>
